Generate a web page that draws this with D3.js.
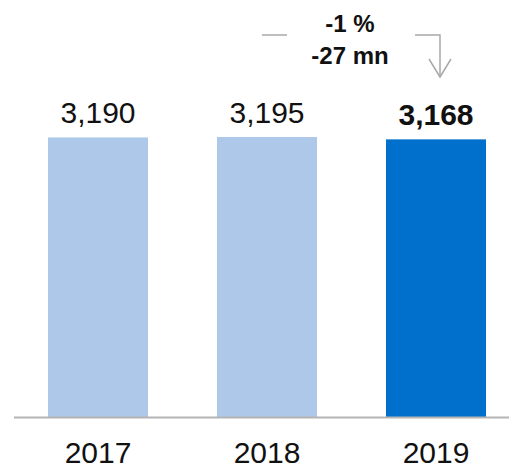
<!DOCTYPE html>
<html>
<head>
<meta charset="utf-8">
<script src="https://cdn.jsdelivr.net/npm/d3@7"></script>
<style>
  html, body { margin: 0; padding: 0; background: #ffffff; }
  svg { display: block; font-family: "Liberation Sans", Arial, sans-serif; }
</style>
</head>
<body>
<svg id="chart" width="509" height="469"></svg>
<script>
// Yearly totals
const years = ["2017", "2018", "2019"];
const values = [3190, 3195, 3168];
const labels = ["3,190", "3,195", "3,168"];
const highlight = [false, false, true];
const changePct = "-1 %";
const changeAbs = "-27 mn";

const svg = d3.select("#chart");
const baseline = 417;
const plotTop = 137;

// bars 100px wide on a 169px step
const x = d3.scaleBand()
  .domain(years)
  .range([48, 486])
  .paddingInner(69 / 169)
  .paddingOuter(0)
  .align(0);

const y = d3.scaleLinear()
  .domain([0, d3.max(values)])
  .range([baseline, plotTop]);

// bars
svg.selectAll("rect.bar")
  .data(years)
  .join("rect")
  .attr("class", "bar")
  .attr("x", d => x(d))
  .attr("width", x.bandwidth())
  .attr("y", (d, i) => y(values[i]))
  .attr("height", (d, i) => baseline - y(values[i]))
  .attr("fill", (d, i) => highlight[i] ? "#0070cc" : "#adc8e8");

// baseline axis
svg.append("line")
  .attr("x1", 14).attr("x2", 509)
  .attr("y1", baseline + 0.5).attr("y2", baseline + 0.5)
  .attr("stroke", "#b4b4b4").attr("stroke-width", 2);

// value labels
svg.selectAll("text.val")
  .data(years)
  .join("text")
  .attr("class", "val")
  .attr("x", d => x(d) + x.bandwidth() / 2)
  .attr("y", (d, i) => y(values[i]) - 14)
  .attr("text-anchor", "middle")
  .attr("font-size", 30)
  .attr("font-weight", (d, i) => highlight[i] ? "bold" : "normal")
  .attr("fill", "#111")
  .text((d, i) => labels[i]);

// year labels
const xAxis = d3.axisBottom(x).tickSize(0).tickPadding(0);
const ax = svg.append("g").attr("transform", `translate(0,${baseline})`).call(xAxis);
ax.select(".domain").remove();
ax.selectAll("text")
  .attr("font-size", 30)
  .attr("font-family", "Liberation Sans, Arial, sans-serif")
  .attr("fill", "#111")
  .attr("dy", null)
  .attr("y", 46);

// change annotation
const ann = svg.append("g");
const cx = 350;
ann.append("text")
  .attr("x", cx).attr("y", 32)
  .attr("text-anchor", "middle")
  .attr("font-size", 24).attr("font-weight", "bold").attr("fill", "#111")
  .text(changePct);
ann.append("text")
  .attr("x", cx).attr("y", 64)
  .attr("text-anchor", "middle")
  .attr("font-size", 24).attr("font-weight", "bold").attr("fill", "#111")
  .text(changeAbs);

const gray = "#a8a8a8";
ann.append("line")
  .attr("x1", 262).attr("x2", 287).attr("y1", 35).attr("y2", 35)
  .attr("stroke", gray).attr("stroke-width", 1.5);
ann.append("path")
  .attr("d", "M415,35 H440 V77")
  .attr("fill", "none").attr("stroke", gray).attr("stroke-width", 1.5);
ann.append("path")
  .attr("d", "M429,59 L440,77 L451,59")
  .attr("fill", "none").attr("stroke", gray).attr("stroke-width", 1.5);
</script>
</body>
</html>
